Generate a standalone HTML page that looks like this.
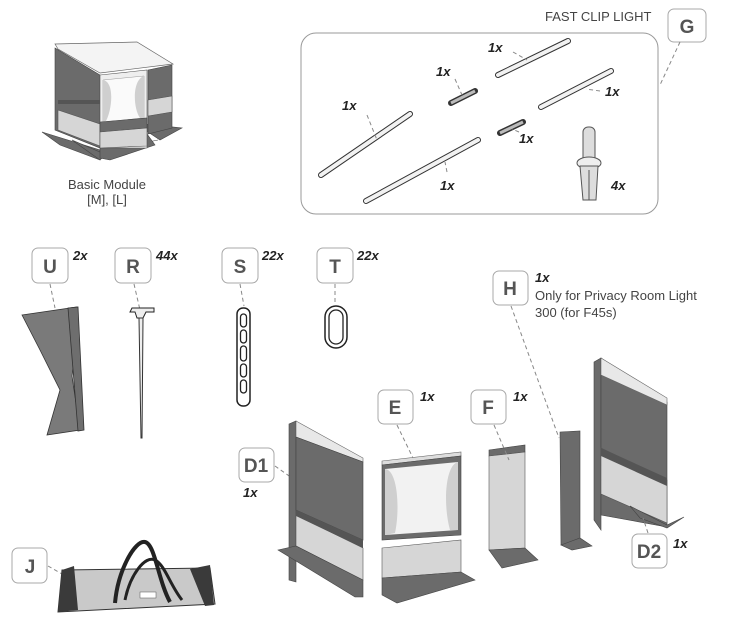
<!DOCTYPE html>
<html><head><meta charset="utf-8"><style>
html,body{margin:0;padding:0;background:#fff}
svg{display:block}
.lb{fill:#fff;stroke:#a8a8a8;stroke-width:1}
.lt{font-family:"Liberation Sans",sans-serif;font-weight:bold;font-size:19px;fill:#555;text-anchor:middle}
.q{font-family:"Liberation Sans",sans-serif;font-weight:bold;font-style:italic;font-size:13px;fill:#222}
.t{font-family:"Liberation Sans",sans-serif;font-size:13px;fill:#444}
.d{stroke:#888;stroke-width:1;stroke-dasharray:4,3;fill:none}
.dk{fill:#6b6b6b;stroke:#444;stroke-width:.6}
.lg{fill:#d6d6d6;stroke:#555;stroke-width:.6}
.wh{fill:#eee;stroke:#555;stroke-width:.6}
.ro{stroke:#333;stroke-width:6;stroke-linecap:round}
.ri{stroke:#f2f2f2;stroke-width:4;stroke-linecap:round}
</style></head><body>
<svg width="731" height="624" viewBox="0 0 731 624" xmlns="http://www.w3.org/2000/svg">
<!-- Basic module -->
<polygon class="dk" points="42,132 100,150 100,160 60,145"/>
<polygon class="dk" points="72,140 100,152 158,140 110,150 100,160"/>
<polygon class="dk" points="145,124 182,128 160,140 145,130"/>
<polygon class="dk" points="100,140 147,134 155,145 110,160 100,158"/>
<polygon class="dk" points="55,48 100,75 100,148 55,130"/>
<polygon class="lg" points="58,110 100,124 100,146 58,130"/>
<rect x="58" y="100" width="42" height="4" fill="#555"/>
<polygon class="wh" points="100,75 147,70 147,148 100,148"/>
<polygon fill="#fafafa" stroke="#999" stroke-width=".5" points="103,80 144,76 144,118 103,122"/>
<path d="M103,80 C115,82 112,110 106,121 L103,122Z M144,76 C132,80 133,108 140,118 L144,118Z" fill="#cfcfcf"/>
<polygon class="dk" points="100,122 147,118 147,128 100,132"/>
<polygon class="lg" points="100,132 147,128 147,146 100,148"/>
<polygon class="dk" points="148,70 172,65 172,128 148,134"/>
<polygon class="lg" points="148,100 172,96 172,112 148,116"/>
<polygon fill="#f4f4f4" stroke="#666" stroke-width=".7" points="55,44 137,42 173,64 100,73 58,49"/>
<text class="t" x="107" y="189" text-anchor="middle">Basic Module</text>
<text class="t" x="107" y="204" text-anchor="middle">[M], [L]</text>

<!-- Fast clip panel -->
<text class="t" x="545" y="21">FAST CLIP LIGHT</text>
<rect class="lb" x="668" y="9" width="38" height="33" rx="6"/>
<text class="lt" x="687" y="33">G</text>
<line class="d" x1="680" y1="42" x2="660" y2="85"/>
<rect x="301" y="33" width="357" height="181" rx="15" fill="#fff" stroke="#999"/>
<g>
<line class="ro" x1="321" y1="175" x2="410" y2="114"/><line class="ri" x1="321" y1="175" x2="410" y2="114"/>
<line class="ro" x1="366" y1="201" x2="478" y2="140"/><line class="ri" x1="366" y1="201" x2="478" y2="140"/>
<line class="ro" x1="498" y1="75" x2="568" y2="41"/><line class="ri" x1="498" y1="75" x2="568" y2="41"/>
<line class="ro" x1="541" y1="107" x2="611" y2="71"/><line class="ri" x1="541" y1="107" x2="611" y2="71"/>
<line class="ro" x1="451" y1="103" x2="475" y2="91" stroke-width="5"/><line x1="451" y1="103" x2="475" y2="91" stroke="#bbb" stroke-width="3"/>
<line class="ro" x1="500" y1="133" x2="523" y2="122" stroke-width="5"/><line x1="500" y1="133" x2="523" y2="122" stroke="#bbb" stroke-width="3"/>
</g>
<g stroke="#555" stroke-width="1" fill="#ddd">
<rect x="583" y="127" width="12" height="50" rx="5"/>
<ellipse cx="589" cy="163" rx="12" ry="6" fill="#eee"/>
<polygon points="580,166 598,166 596,200 583,200"/>
<line x1="589" y1="170" x2="589" y2="200"/>
</g>
<g class="q"><text x="488" y="52">1x</text><text x="436" y="76">1x</text><text x="605" y="96">1x</text><text x="342" y="110">1x</text><text x="519" y="143">1x</text><text x="440" y="190">1x</text><text x="611" y="190">4x</text></g>
<line class="d" x1="367" y1="115" x2="377" y2="140"/>
<line class="d" x1="455" y1="79" x2="462" y2="95"/>
<line class="d" x1="513" y1="52" x2="527" y2="60"/>
<line class="d" x1="600" y1="91" x2="586" y2="89"/>
<line class="d" x1="519" y1="132" x2="512" y2="129"/>
<line class="d" x1="447" y1="172" x2="445" y2="162"/>

<!-- U R S T -->
<g>
<rect class="lb" x="32" y="248" width="36" height="35" rx="6"/><text class="lt" x="50" y="273">U</text><text class="q" x="73" y="260">2x</text>
<rect class="lb" x="115" y="248" width="36" height="35" rx="6"/><text class="lt" x="133" y="273">R</text><text class="q" x="156" y="260">44x</text>
<rect class="lb" x="222" y="248" width="36" height="35" rx="6"/><text class="lt" x="240" y="273">S</text><text class="q" x="262" y="260">22x</text>
<rect class="lb" x="317" y="248" width="36" height="35" rx="6"/><text class="lt" x="335" y="273">T</text><text class="q" x="357" y="260">22x</text>
</g>
<line class="d" x1="50" y1="284" x2="55" y2="308"/>
<line class="d" x1="134" y1="284" x2="140" y2="310"/>
<line class="d" x1="240" y1="284" x2="244" y2="306"/>
<line class="d" x1="335" y1="284" x2="335" y2="302"/>
<polygon fill="#7a7a7a" stroke="#333" stroke-width=".8" points="22,315 77,307 78,330 72,376 80,430 47,435 60,390 40,350"/>
<polygon fill="#6e6e6e" stroke="#333" stroke-width=".8" points="68,308 78,307 84,430 78,431"/>
<path d="M132,308 h22 v4 h-8 l-3,6 h-6 l-2,-6 h-5z" fill="#eee" stroke="#222"/>
<polygon points="139,318 143,318 142,438 141,438" fill="#eee" stroke="#333"/>
<rect x="237" y="308" width="13" height="98" rx="6" fill="#fff" stroke="#222" stroke-width="1.5"/>
<g fill="none" stroke="#222" stroke-width="1.3"><rect x="240.5" y="314" width="6" height="13" rx="3"/><rect x="240.5" y="330" width="6" height="13" rx="3"/><rect x="240.5" y="346" width="6" height="15" rx="3"/><rect x="240.5" y="364" width="6" height="13" rx="3"/><rect x="240.5" y="380" width="6" height="13" rx="3"/></g>
<rect x="325" y="306" width="22" height="42" rx="11" fill="#fff" stroke="#222" stroke-width="1.5"/>
<rect x="329" y="310" width="14" height="34" rx="7" fill="none" stroke="#222" stroke-width="1.3"/>

<!-- H -->
<rect class="lb" x="493" y="271" width="35" height="34" rx="6"/><text class="lt" x="510" y="295">H</text>
<text class="q" x="535" y="282">1x</text>
<text class="t" x="535" y="300">Only for Privacy Room Light</text>
<text class="t" x="535" y="317">300 (for F45s)</text>
<line class="d" x1="511" y1="306" x2="559" y2="438"/>
<polygon class="dk" points="560,432 580,431 580,540 561,545"/>
<polygon class="dk" points="561,545 580,538 592,546 572,550"/>

<!-- D2 -->
<polygon class="dk" points="594,362 601,358 601,530 594,520"/>
<polygon class="dk" points="601,358 667,402 667,527 601,515"/>
<polygon fill="#e8e8e8" stroke="#666" stroke-width=".6" points="601,358 667,398 667,405 601,375"/>
<polygon class="lg" points="601,448 667,480 667,523 601,494"/>
<polygon points="601,448 667,478 667,486 601,456" fill="#555"/>
<polygon class="dk" points="630,506 667,525 684,517 667,528 640,518"/>
<rect class="lb" x="632" y="534" width="35" height="34" rx="6"/><text class="lt" x="649" y="558">D2</text><text class="q" x="673" y="548">1x</text>
<line class="d" x1="648" y1="533" x2="643" y2="518"/>

<!-- F -->
<rect class="lb" x="471" y="390" width="35" height="34" rx="6"/><text class="lt" x="488" y="414">F</text><text class="q" x="513" y="401">1x</text>
<polygon class="dk" points="489,450 525,445 525,452 489,456"/>
<polygon class="lg" points="489,456 525,452 525,548 489,550"/>
<polygon class="dk" points="489,550 525,548 538,560 502,568"/>
<line class="d" x1="494" y1="425" x2="509" y2="460"/>

<!-- E -->
<rect class="lb" x="378" y="390" width="35" height="34" rx="6"/><text class="lt" x="395" y="414">E</text><text class="q" x="420" y="401">1x</text>
<line class="d" x1="397" y1="425" x2="413" y2="458"/>
<polygon fill="#ddd" stroke="#666" stroke-width=".6" points="382,461 461,452 461,456 382,465"/>
<polygon class="dk" points="382,465 461,456 461,535 382,540"/>
<polygon fill="#f2f2f2" points="385,469 458,462 458,530 385,535"/>
<path d="M385,469 C398,470 400,510 395,533 L385,535Z M458,462 C445,465 443,505 450,530 L458,530Z" fill="#cfcfcf"/>
<polygon class="lg" points="382,548 461,540 461,572 382,578"/>
<polygon class="dk" points="382,578 461,572 475,580 397,603 382,595"/>

<!-- D1 -->
<rect class="lb" x="239" y="448" width="35" height="34" rx="6"/><text class="lt" x="256" y="472">D1</text><text class="q" x="243" y="497">1x</text>
<line class="d" x1="275" y1="466" x2="292" y2="478"/>
<polygon class="dk" points="289,424 296,421 296,582 289,580"/>
<polygon fill="#e8e8e8" stroke="#666" stroke-width=".6" points="296,421 363,458 363,462 296,437"/>
<polygon class="dk" points="296,437 363,462 363,540 296,510"/>
<polygon class="lg" points="296,515 363,548 363,580 296,546"/>
<polygon points="296,510 363,540 363,548 296,516" fill="#555"/>
<polygon class="dk" points="278,550 296,546 363,580 363,597 355,597"/>

<!-- J bag -->
<rect class="lb" x="12" y="548" width="35" height="35" rx="6"/><text class="lt" x="30" y="573">J</text>
<line class="d" x1="48" y1="566" x2="90" y2="590"/>
<path d="M62,570 L210,568 L215,604 L58,612 Z" fill="#c9c9c9" stroke="#333"/>
<path d="M62,570 L74,566 L78,610 L58,612Z" fill="#3a3a3a"/>
<path d="M190,569 L210,565 L214,605 L205,606Z" fill="#3a3a3a"/>
<path d="M115,603 C118,570 135,540 145,542 C155,544 158,580 170,602" fill="none" stroke="#222" stroke-width="4"/>
<path d="M125,600 C130,575 145,555 155,560 C165,565 170,585 182,600" fill="none" stroke="#222" stroke-width="3"/>
<rect x="140" y="592" width="16" height="6" fill="#fff" stroke="#555" stroke-width=".5"/>
</svg>
</body></html>
